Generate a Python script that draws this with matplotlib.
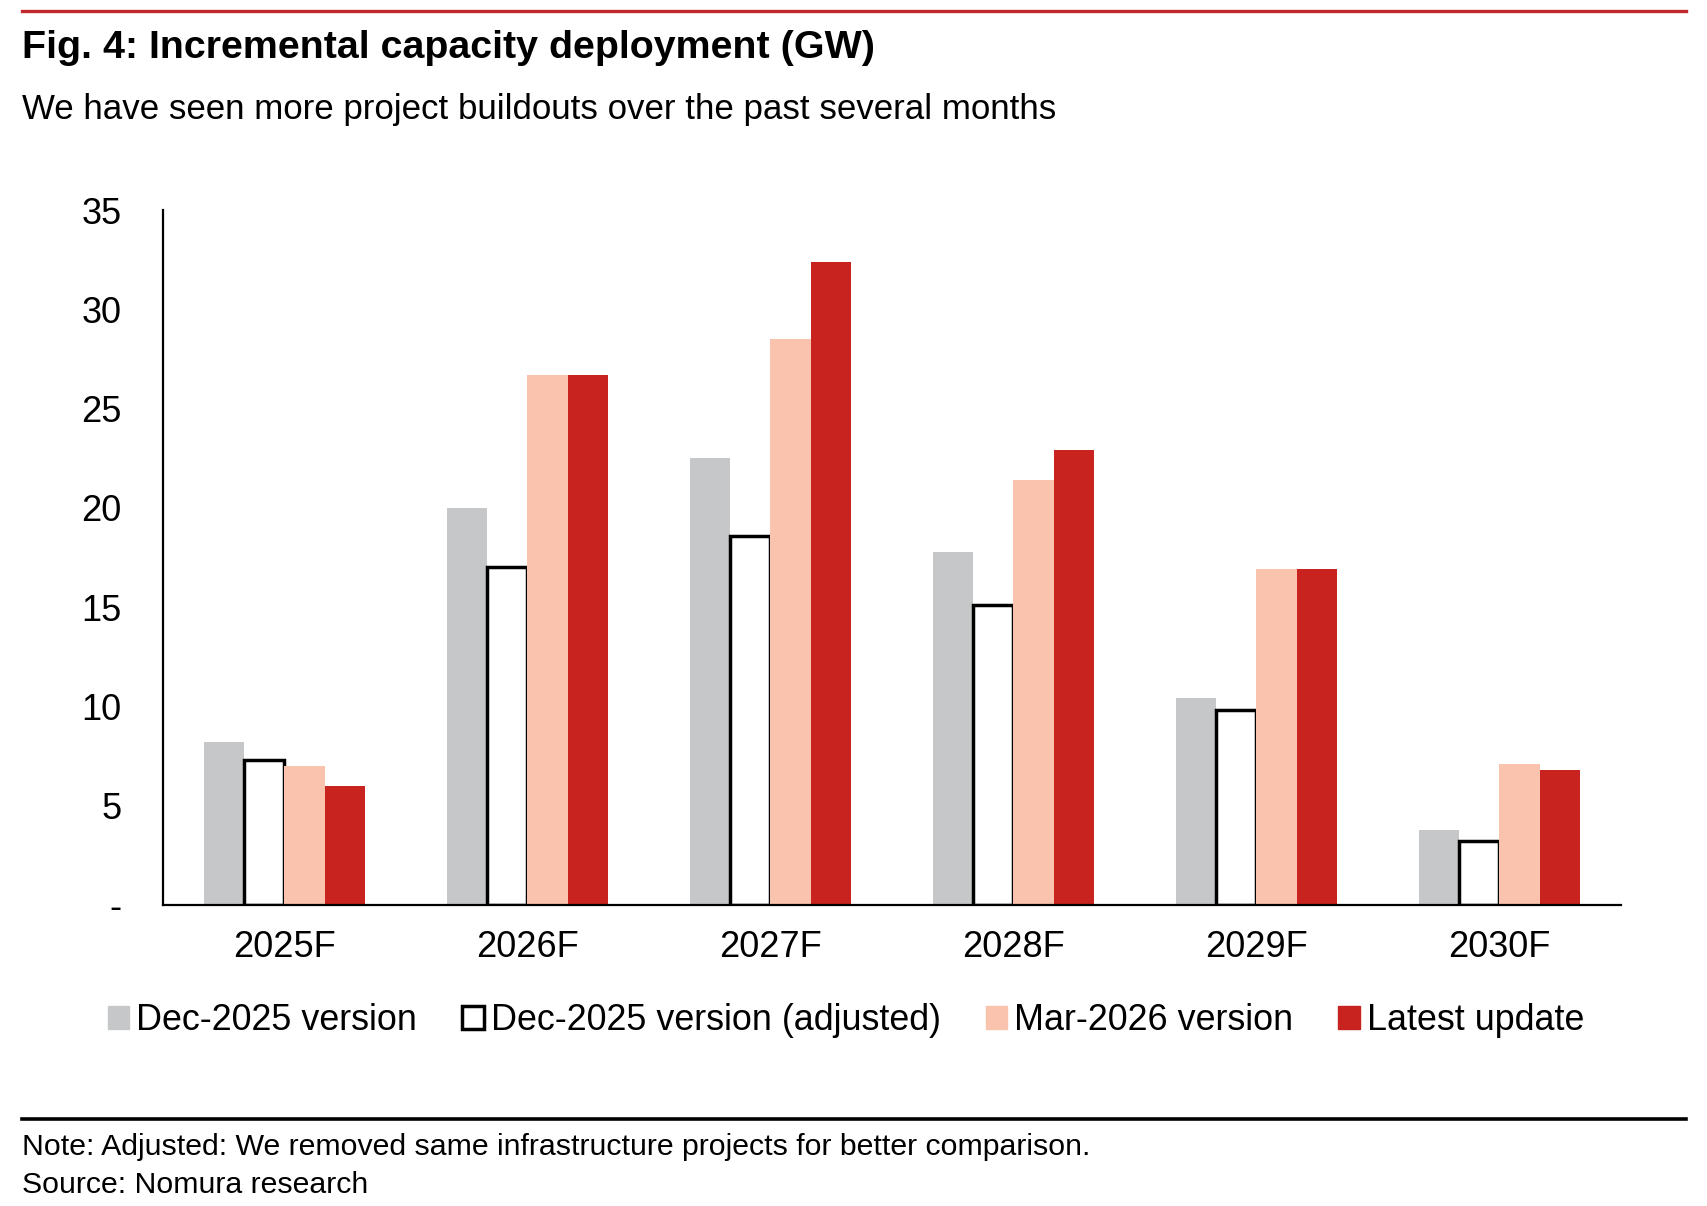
import matplotlib
matplotlib.use("Agg")
import matplotlib.pyplot as plt
import numpy as np
from matplotlib.patches import Patch
from matplotlib.lines import Line2D

categories = ["2025F", "2026F", "2027F", "2028F", "2029F", "2030F"]
dec_2025 = [8.2, 20.0, 22.5, 17.8, 10.4, 3.8]
dec_2025_adj = [7.3, 17.0, 18.6, 15.1, 9.8, 3.2]
mar_2026 = [7.0, 26.7, 28.5, 21.4, 16.9, 7.1]
latest = [6.0, 26.7, 32.4, 22.9, 16.9, 6.8]
series_names = ["Dec-2025 version", "Dec-2025 version (adjusted)", "Mar-2026 version", "Latest update"]
yticks = [0, 5, 10, 15, 20, 25, 30, 35]
ytick_labels = ["-", "5", "10", "15", "20", "25", "30", "35"]

GREY = "#C6C7C8"
PINK = "#F9C3AE"
RED = "#C8231F"

plt.rcParams["font.family"] = ["Liberation Sans", "DejaVu Sans"]

W, H = 1708, 1206
fig = plt.figure(figsize=(W / 100, H / 100), dpi=100)
ax = fig.add_axes([163 / W, 1 - 905 / H, (1621 - 163) / W, (905 - 210) / H])

x = np.arange(len(categories))
bw = 0.166
ax.bar(x - 1.5 * bw, dec_2025, bw, color=GREY, zorder=2)
ax.bar(x - 0.5 * bw, dec_2025_adj, bw, facecolor="white", edgecolor="black", linewidth=2.5, zorder=2)
ax.bar(x + 0.5 * bw, mar_2026, bw, color=PINK, zorder=3)
ax.bar(x + 1.5 * bw, latest, bw, color=RED, zorder=3)

ax.set_xlim(-0.5, len(categories) - 0.5)
ax.set_ylim(0, 35)
ax.set_yticks(yticks)
ax.set_yticklabels(ytick_labels)
ax.set_xticks(x)
ax.set_xticklabels(categories)
ax.tick_params(axis="both", length=0, labelsize=26)
ax.tick_params(axis="y", pad=30)
ax.tick_params(axis="x", pad=18)
for s in ["top", "right"]:
    ax.spines[s].set_visible(False)
for s in ["left", "bottom"]:
    ax.spines[s].set_linewidth(1.6)
    ax.spines[s].set_color("black")
    ax.spines[s].set_zorder(5)

handles = [
    Patch(facecolor=GREY, edgecolor=GREY),
    Patch(facecolor="white", edgecolor="black", linewidth=2.5),
    Patch(facecolor=PINK, edgecolor=PINK),
    Patch(facecolor=RED, edgecolor=RED),
]
fig.legend(handles, series_names, loc="center", bbox_to_anchor=(846 / W, 1 - 1021 / H),
           ncol=4, frameon=False, fontsize=25.8, handlelength=0.6, handleheight=0.6,
           handletextpad=0.2, columnspacing=1.25, borderpad=0)

# header / footer
fig.add_artist(Line2D([22 / W, 1686 / W], [1 - 11 / H, 1 - 11 / H], color="#C0282D", linewidth=2.4))
fig.add_artist(Line2D([22 / W, 1686 / W], [1 - 1119 / H, 1 - 1119 / H], color="black", linewidth=2.6))
fig.text(22 / W, 1 - 48 / H, "Fig. 4: Incremental capacity deployment (GW)", fontsize=28.4,
         fontweight="bold", va="center", ha="left")
fig.text(22 / W, 1 - 109 / H, "We have seen more project buildouts over the past several months",
         fontsize=25.1, va="center", ha="left")
fig.text(22 / W, 1 - 1147 / H, "Note: Adjusted: We removed same infrastructure projects for better comparison.",
         fontsize=21.8, va="center", ha="left")
fig.text(22 / W, 1 - 1185 / H, "Source: Nomura research", fontsize=21.8, va="center", ha="left")

fig.savefig("out.png", dpi=100)
